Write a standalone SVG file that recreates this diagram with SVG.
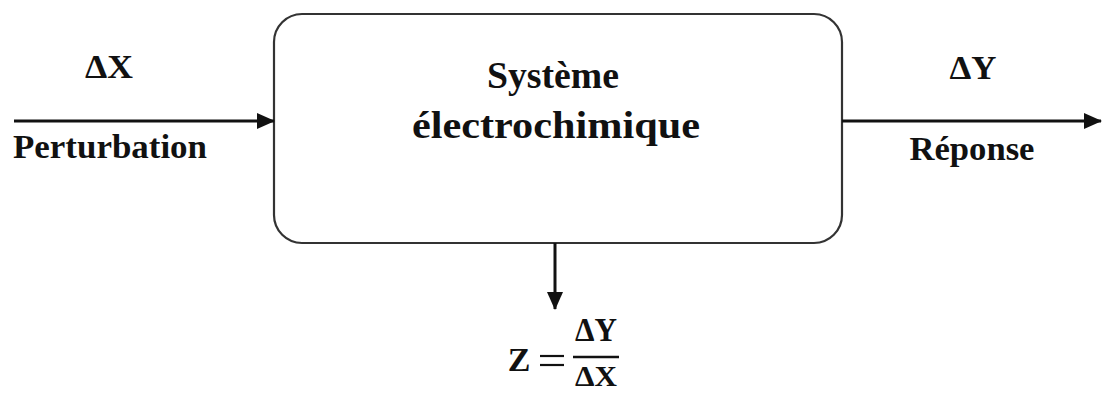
<svg xmlns="http://www.w3.org/2000/svg" width="1102" height="394" viewBox="0 0 1102 394">
<style>
.t{font-family:"Liberation Serif","Times New Roman",serif;font-weight:bold;fill:#111;text-anchor:middle}
.c{stroke:#111;stroke-width:3;fill:none}
</style>
<defs>
<marker id="ah" markerUnits="userSpaceOnUse" markerWidth="18" markerHeight="16" refX="17" refY="8" orient="auto">
<path d="M0,0 L18,8 L0,16 Z" fill="#111"/>
</marker>
</defs>
<rect width="1102" height="394" fill="#fff"/>
<g id="system">
<rect x="274" y="14" width="568" height="229" rx="28" ry="28" fill="#fff" stroke="#333" stroke-width="2.2"/>
<text class="t" x="553" y="88" font-size="37" textLength="132" lengthAdjust="spacingAndGlyphs">Système</text>
<text class="t" x="556" y="138" font-size="37" textLength="288" lengthAdjust="spacingAndGlyphs">électrochimique</text>
</g>
<g id="input">
<text class="t" x="109" y="78" font-size="34" textLength="48" lengthAdjust="spacingAndGlyphs">ΔX</text>
<text class="t" x="110" y="158" font-size="33" textLength="194" lengthAdjust="spacingAndGlyphs">Perturbation</text>
</g>
<g id="output">
<text class="t" x="973" y="79" font-size="34" textLength="47" lengthAdjust="spacingAndGlyphs">ΔY</text>
<text class="t" x="972" y="160" font-size="33" textLength="125" lengthAdjust="spacingAndGlyphs">Réponse</text>
</g>
<g id="impedance">
<text class="t" x="519" y="371" font-size="34">Z</text>
<line x1="540" y1="356" x2="564" y2="356" stroke="#111" stroke-width="2.2"/>
<line x1="540" y1="365" x2="564" y2="365" stroke="#111" stroke-width="2.2"/>
<text class="t" x="596" y="341" font-size="33" textLength="42" lengthAdjust="spacingAndGlyphs">ΔY</text>
<line x1="573" y1="357" x2="619" y2="357" stroke="#111" stroke-width="2.5"/>
<text class="t" x="596" y="386" font-size="30" textLength="42" lengthAdjust="spacingAndGlyphs">ΔX</text>
</g>
<g id="connectors">
<line class="c" x1="14" y1="121" x2="274" y2="121" marker-end="url(#ah)"/>
<line class="c" x1="842" y1="121" x2="1101" y2="121" marker-end="url(#ah)"/>
<line class="c" x1="555" y1="243" x2="555" y2="309" marker-end="url(#ah)"/>
</g>
</svg>
